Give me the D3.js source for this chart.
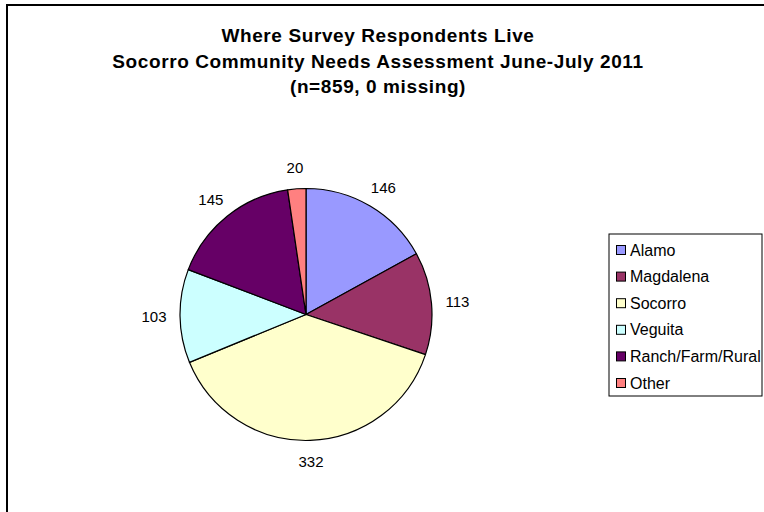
<!DOCTYPE html>
<html>
<head>
<meta charset="utf-8">
<script src="https://cdn.jsdelivr.net/npm/d3@7"></script>
<style>
  body { margin: 0; background: #fff; }
  text { font-family: Arial, "Liberation Sans", sans-serif; fill: #000; }
</style>
</head>
<body>
<svg id="chart" width="764" height="512"></svg>
<script>
// data
const categories = ["Alamo", "Magdalena", "Socorro", "Veguita", "Ranch/Farm/Rural", "Other"];
const counts = [146, 113, 332, 103, 145, 20];
const colors = ["#9999FF", "#993366", "#FFFFCC", "#CCFFFF", "#660066", "#FF8080"];
const titleLines = [
  "Where Survey Respondents Live",
  "Socorro Community Needs Assessment June-July 2011",
  "(n=859, 0 missing)"
];

const svg = d3.select("#chart");

// outer chart frame (right/bottom run past the crop)
svg.append("rect")
  .attr("x", 7).attr("y", 5)
  .attr("width", 820).attr("height", 600)
  .attr("fill", "#fff")
  .attr("stroke", "#000")
  .attr("stroke-width", 2);

// title
svg.append("g")
  .selectAll("text")
  .data(titleLines)
  .join("text")
  .attr("x", 378)
  .attr("y", (d, i) => 42 + i * 25.5)
  .attr("text-anchor", "middle")
  .style("font-size", "19px")
  .style("font-weight", "bold")
  .style("letter-spacing", "0.6px")
  .text(d => d);

// pie
const cx = 306, cy = 314.5, r = 126;
const color = d3.scaleOrdinal().domain(categories).range(colors);
const pie = d3.pie().sort(null).value(d => d.value);
const arcs = pie(categories.map((c, i) => ({ name: c, value: counts[i] })));
const arc = d3.arc().innerRadius(0).outerRadius(r);

const g = svg.append("g").attr("transform", `translate(${cx},${cy})`);

g.selectAll("path")
  .data(arcs)
  .join("path")
  .attr("d", arc)
  .attr("fill", d => color(d.data.name))
  .attr("stroke", "#000")
  .attr("stroke-width", 1.2)
  .attr("stroke-linejoin", "round");

// value labels just outside each slice, pushed out by half the text box
const gap = 12, lw = 14, lh = 9;
g.selectAll("text.val")
  .data(arcs)
  .join("text")
  .attr("class", "val")
  .attr("x", d => {
    const a = (d.startAngle + d.endAngle) / 2;
    return (r + gap) * Math.sin(a) + lw * Math.sin(a);
  })
  .attr("y", d => {
    const a = (d.startAngle + d.endAngle) / 2;
    return -(r + gap) * Math.cos(a) - lh * Math.cos(a) + 5.5;
  })
  .attr("text-anchor", "middle")
  .style("font-size", "15px")
  .text(d => d.data.value);

// legend
const legend = svg.append("g").attr("transform", "translate(609,234)");
legend.append("rect")
  .attr("width", 153).attr("height", 162)
  .attr("fill", "#fff")
  .attr("stroke", "#000")
  .attr("stroke-width", 1);

const rowY = d3.scalePoint().domain(categories).range([16, 149]);
const item = legend.selectAll("g.item")
  .data(categories)
  .join("g")
  .attr("class", "item")
  .attr("transform", d => `translate(0,${rowY(d)})`);

item.append("rect")
  .attr("x", 7.5).attr("y", -4.5)
  .attr("width", 9).attr("height", 9)
  .attr("fill", d => color(d))
  .attr("stroke", "#000")
  .attr("stroke-width", 1);

item.append("text")
  .attr("x", 21)
  .attr("y", 5.5)
  .style("font-size", "16px")
  .text(d => d);
</script>
</body>
</html>
